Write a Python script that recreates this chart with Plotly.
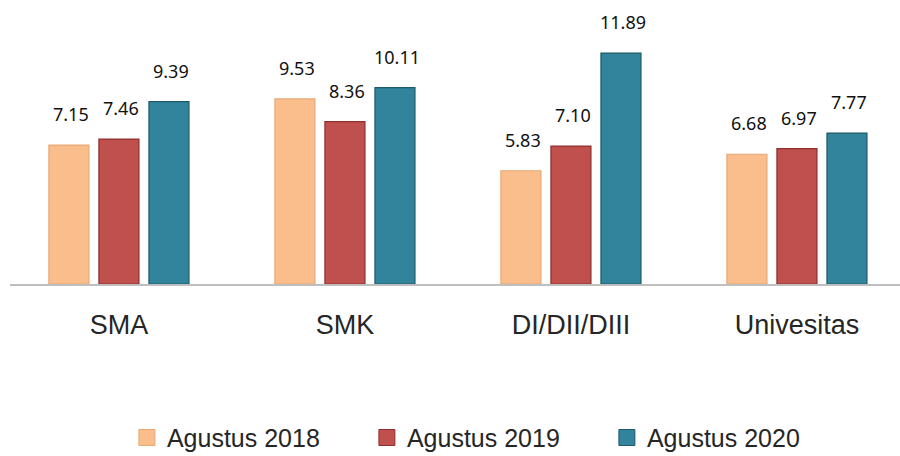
import plotly.graph_objects as go

categories = ["SMA", "SMK", "DI/DII/DIII", "Univesitas"]
series_names = ["Agustus 2018", "Agustus 2019", "Agustus 2020"]
values_2018 = [7.15, 9.53, 5.83, 6.68]
values_2019 = [7.46, 8.36, 7.10, 6.97]
values_2020 = [9.39, 10.11, 11.89, 7.77]

series_values = [values_2018, values_2019, values_2020]
fill_colors = ["#F9BE8C", "#C0504D", "#31849B"]
line_colors = ["#E8A874", "#8E2F2D", "#1E5A6B"]

BARGAP = 0.336
BARGROUPGAP = 0.2
n_series = len(series_values)
slot = (1 - BARGAP) / n_series

LABEL_FONT = "Liberation Sans Narrow, Arial Narrow, Liberation Sans, Arial, sans-serif"

fig = go.Figure()
xs = list(range(len(categories)))
for name, vals, fc, lc in zip(series_names, series_values, fill_colors, line_colors):
    fig.add_trace(go.Bar(
        x=xs, y=vals, name=name,
        marker=dict(color=fc, line=dict(color=lc, width=1.2)),
        showlegend=False, hoverinfo="y",
    ))
    # legend proxy with larger square symbol
    fig.add_trace(go.Scatter(
        x=[None], y=[None], mode="markers", name=name,
        marker=dict(symbol="square", size=16, color=fc, line=dict(color=lc, width=1)),
        showlegend=True,
    ))

annotations = []
for j, vals in enumerate(series_values):
    for i, v in enumerate(vals):
        annotations.append(dict(
            x=i + (j - (n_series - 1) / 2) * slot, y=v, xref="x", yref="y",
            text=f"{v:.2f}", showarrow=False, yanchor="middle", yshift=31, xshift=2,
            font=dict(family="Noto Sans, Open Sans, sans-serif", size=18, color="#111111"),
        ))

fig.update_layout(
    width=900, height=456,
    margin=dict(l=10, r=0, t=0, b=172, autoexpand=False),
    paper_bgcolor="white", plot_bgcolor="white",
    barmode="group", bargap=BARGAP, bargroupgap=BARGROUPGAP,
    annotations=annotations,
    showlegend=True,
    legend=dict(
        orientation="h", xref="container", yref="container",
        x=0.141, xanchor="left", y=0.04, yanchor="middle",
        entrywidth=195, entrywidthmode="pixels",
        font=dict(family=LABEL_FONT, size=25, color="#262626"),
        itemclick=False, itemdoubleclick=False,
    ),
)
fig.update_xaxes(
    range=[-0.482, 3.456], tickmode="array", tickvals=xs, ticktext=categories,
    showline=True, linecolor="#BFBFBF", linewidth=2, showgrid=False, zeroline=False,
    ticks="", ticklabelstandoff=16,
    tickfont=dict(family=LABEL_FONT, size=27, color="#262626"),
)
fig.update_yaxes(range=[0, 14.62], visible=False, showgrid=False, zeroline=False)

fig.write_html(
    "out.html",
    config={"displayModeBar": False},
    post_script="document.body.style.margin='0';document.body.style.padding='0';document.body.style.overflow='hidden';",
)
